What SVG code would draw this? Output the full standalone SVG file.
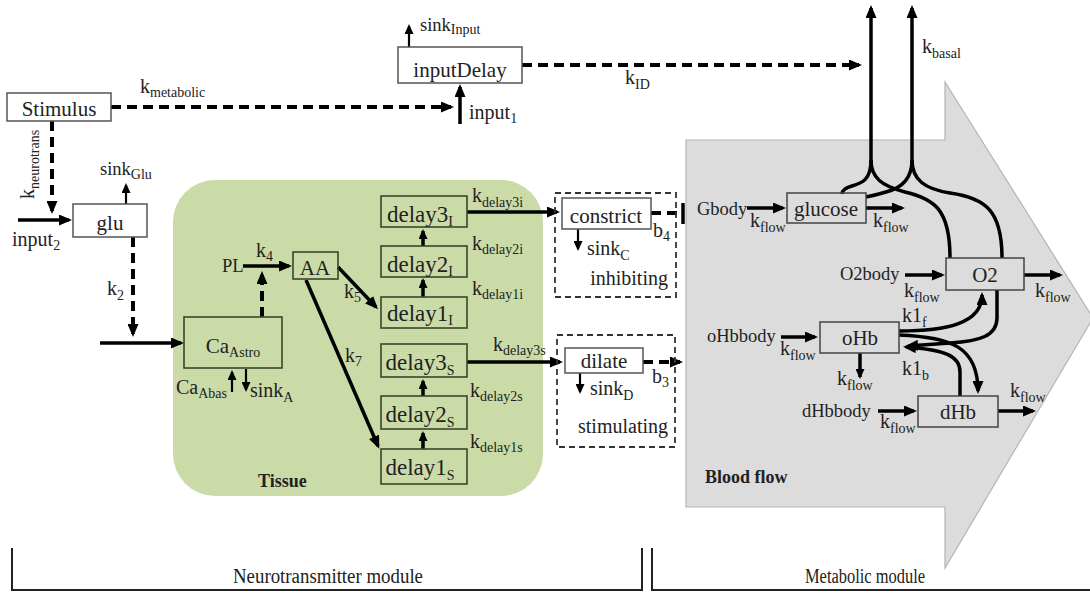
<svg xmlns="http://www.w3.org/2000/svg" width="1090" height="600" viewBox="0 0 1090 600" font-family="Liberation Serif, Times New Roman, DejaVu Serif, serif">
<defs>
<marker id="a" markerUnits="userSpaceOnUse" markerWidth="13" markerHeight="11" refX="10" refY="5.5" orient="auto"><path d="M0,0 L13,5.5 L0,11 z" fill="#000"/></marker>
<marker id="s" markerUnits="userSpaceOnUse" markerWidth="10" markerHeight="9" refX="8" refY="4.5" orient="auto"><path d="M0,0 L10,4.5 L0,9 z" fill="#000"/></marker>
<style>
text{font-family:"Liberation Serif","Times New Roman","DejaVu Serif",serif;fill:#222;font-size:20px}
tspan.u{font-size:14px}
.c{text-anchor:middle}
.e{text-anchor:end}
.n{font-size:21px}
.d{font-size:23px}
.sm{font-size:18.5px}
.b{font-weight:bold;font-size:18px}
.box{fill:#fff;stroke:#555;stroke-width:1.5}
.gbox{fill:none;stroke:#38482a;stroke-width:1.6}
.mbox{fill:none;stroke:#444;stroke-width:1.5}
.ln{fill:none;stroke:#000;stroke-width:3.5}
.th{fill:none;stroke:#000;stroke-width:2.2}
.dl{fill:none;stroke:#000;stroke-width:4;stroke-dasharray:10,6}
.db{fill:none;stroke:#333;stroke-width:1.8;stroke-dasharray:6,4}
</style>
</defs>
<rect width="1090" height="600" fill="#fff"/>
<g id="bloodflow-region">
<polygon points="686,140 945,140 945,82 1093,318 945,568 945,507 686,507" fill="#dcdcdc" stroke="#b4b4b4" stroke-width="1.2"/>
<text x="705" y="483" class="b">Blood flow</text>
</g>
<g id="tissue-region">
<rect x="173" y="180" width="370" height="316" rx="42" fill="#cbdba7"/>
<text x="258" y="487" class="b">Tissue</text>
</g>
<g id="connectors">
<path class="dl" d="M111,107 L451,107" marker-end="url(#a)"/>
<text x="140" y="93">k<tspan class="u" dy="4">metabolic</tspan></text>
<path class="ln" d="M460,124 L460,87" marker-end="url(#a)"/>
<text x="469" y="119">input<tspan class="u" dy="4">1</tspan></text>
<path class="th" d="M409,47 L409,26" marker-end="url(#s)"/>
<text x="420" y="31" class="sm">sink<tspan class="u" dy="3">Input</tspan></text>
<path class="dl" d="M522,65 L859,65" marker-end="url(#a)"/>
<text x="625" y="84">k<tspan class="u" dy="5">ID</tspan></text>
<path class="ln" d="M871,162 L871,8" marker-end="url(#a)"/>
<path class="ln" d="M912,162 L912,8" marker-end="url(#a)"/>
<text x="922" y="53">k<tspan class="u" dy="5">basal</tspan></text>
<path class="dl" d="M52,121 L52,211" marker-end="url(#a)"/>
<text transform="translate(34,199) rotate(-90)">k<tspan class="u" dy="5">neurotrans</tspan></text>
<path class="ln" d="M18,220 L69,220" marker-end="url(#a)"/>
<text x="12" y="246">input<tspan class="u" dy="4">2</tspan></text>
<path class="th" d="M126,204 L126,185" marker-end="url(#s)"/>
<text x="100" y="175" class="sm">sink<tspan class="u" dy="4">Glu</tspan></text>
<path class="dl" d="M133,237 L133,334" marker-end="url(#a)"/>
<text x="107" y="295">k<tspan class="u" dy="5">2</tspan></text>
<path class="ln" d="M100,343 L181,343" marker-end="url(#a)"/>
<path class="th" d="M232,392 L232,372" marker-end="url(#s)"/>
<path class="th" d="M246,369 L246,390" marker-end="url(#s)"/>
<text x="176" y="394">Ca<tspan class="u" dy="4">Abas</tspan></text>
<text x="250" y="397">sink<tspan class="u" dy="5">A</tspan></text>
<path class="dl" d="M262,317 L262,274" marker-end="url(#a)"/>
<text x="222" y="272" class="sm">PL</text>
<path class="ln" d="M243,266 L289,266" marker-end="url(#a)"/>
<text x="256" y="257">k<tspan class="u" dy="4">4</tspan></text>
<path class="ln" d="M338,267 L376,307" marker-end="url(#a)"/>
<text x="344" y="298">k<tspan class="u" dy="4">5</tspan></text>
<path class="ln" d="M306,280 L378,446" marker-end="url(#a)"/>
<text x="345" y="362">k<tspan class="u" dy="4">7</tspan></text>
<path class="ln" d="M423,246 L423,231" marker-end="url(#s)"/>
<path class="ln" d="M423,297 L423,280" marker-end="url(#s)"/>
<path class="ln" d="M423,396 L423,381" marker-end="url(#s)"/>
<path class="ln" d="M423,449 L423,433" marker-end="url(#s)"/>
<text x="472" y="202">k<tspan class="u" dy="5">delay3i</tspan></text>
<text x="472" y="250">k<tspan class="u" dy="4">delay2i</tspan></text>
<text x="472" y="295">k<tspan class="u" dy="4">delay1i</tspan></text>
<text x="493" y="351">k<tspan class="u" dy="4">delay3s</tspan></text>
<text x="470" y="397">k<tspan class="u" dy="4">delay2s</tspan></text>
<text x="470" y="448">k<tspan class="u" dy="4">delay1s</tspan></text>
<path class="ln" d="M467,212 L557,212" marker-end="url(#a)"/>
<path class="ln" d="M467,362 L560,362" marker-end="url(#a)"/>
<path class="th" d="M578,229 L578,249" marker-end="url(#s)"/>
<text x="587" y="255">sink<tspan class="u" dy="5">C</tspan></text>
<text x="653" y="237">b<tspan class="u" dy="4">4</tspan></text>
<path class="dl" d="M651,213 L681,213" stroke-dasharray="9,6"/>
<path d="M683,203 L683,224" stroke="#000" stroke-width="3.5"/>
<path class="th" d="M580,373 L580,392" marker-end="url(#s)"/>
<text x="590" y="395">sink<tspan class="u" dy="5">D</tspan></text>
<text x="652" y="383">b<tspan class="u" dy="4">3</tspan></text>
<path class="dl" d="M643,362 L680,362" stroke-dasharray="9,6" marker-end="url(#a)"/>
<text x="697" y="215" class="sm">Gbody</text>
<path class="ln" d="M747,208 L783,208" marker-end="url(#a)"/>
<text x="750" y="227">k<tspan class="u" dy="5">flow</tspan></text>
<path class="ln" d="M866,208 L902,208" marker-end="url(#a)"/>
<text x="873" y="227">k<tspan class="u" dy="5">flow</tspan></text>
<text x="840" y="280" class="sm">O2body</text>
<path class="ln" d="M905,275 L942,275" marker-end="url(#a)"/>
<text x="904" y="297">k<tspan class="u" dy="5">flow</tspan></text>
<path class="ln" d="M1024,275 L1060,275" marker-end="url(#a)"/>
<text x="1035" y="297">k<tspan class="u" dy="5">flow</tspan></text>
<text x="707" y="342" class="sm">oHbbody</text>
<path class="ln" d="M781,337 L815,337" marker-end="url(#a)"/>
<text x="780" y="355">k<tspan class="u" dy="5">flow</tspan></text>
<path class="ln" d="M860,353 L860,377" marker-end="url(#s)"/>
<text x="837" y="385">k<tspan class="u" dy="5">flow</tspan></text>
<text x="802" y="417" class="sm">dHbbody</text>
<path class="ln" d="M878,411 L914,411" marker-end="url(#a)"/>
<text x="880" y="428">k<tspan class="u" dy="5">flow</tspan></text>
<path class="ln" d="M998,411 L1033,411" marker-end="url(#a)"/>
<text x="1010" y="397">k<tspan class="u" dy="5">flow</tspan></text>
<path class="ln" d="M871,160 C871,180 862,183 852,186 C845,188 842,190 842,194"/>
<path class="ln" d="M871,160 C871,178 882,186 905,192 C935,199 950,210 950,258"/>
<path class="ln" d="M912,160 C912,178 902,188 886,192 C876,195 871,196 866,197"/>
<path class="ln" d="M912,160 C912,180 925,189 950,193 C985,198 1002,210 1002,258"/>
<path class="ln" d="M997,290 L997,318 C997,336 980,341 950,343 L908,346" marker-end="url(#a)"/>
<path class="ln" d="M960,396 L960,372 C960,356 946,350 906,347" marker-end="url(#a)"/>
<path class="ln" d="M899,331 C945,331 982,324 982,295" marker-end="url(#a)"/>
<path class="ln" d="M899,335 C950,337 978,346 978,391" marker-end="url(#a)"/>
<text x="902" y="322">k1<tspan class="u" dy="5">f</tspan></text>
<text x="902" y="375">k1<tspan class="u" dy="5">b</tspan></text>
</g>
<g id="Stimulus"><rect class="box" x="7" y="93" width="104" height="28"/><text x="59" y="116" class="c n">Stimulus</text></g>
<g id="inputDelay"><rect class="box" x="398" y="47" width="124" height="36"/><text x="460" y="77" class="c n">inputDelay</text></g>
<g id="glu"><rect class="box" x="73" y="204" width="74" height="33"/><text x="110" y="230" class="c n">glu</text></g>
<g id="CaAstro"><rect class="gbox" x="184" y="317" width="98" height="51"/><text x="233" y="353" class="c n">Ca<tspan class="u" dy="4">Astro</tspan></text></g>
<g id="AA"><rect class="gbox" x="293" y="252" width="45" height="27"/><text x="315" y="275" class="c n">AA</text></g>
<g id="delay3I"><rect class="gbox" x="381" y="196" width="86" height="31"/><text x="420" y="222" class="c d">delay3<tspan class="u" dy="4">I</tspan></text></g>
<g id="delay2I"><rect class="gbox" x="381" y="246" width="86" height="31"/><text x="420" y="272" class="c d">delay2<tspan class="u" dy="4">I</tspan></text></g>
<g id="delay1I"><rect class="gbox" x="381" y="297" width="86" height="31"/><text x="420" y="321" class="c d">delay1<tspan class="u" dy="4">I</tspan></text></g>
<g id="delay3S"><rect class="gbox" x="381" y="344" width="86" height="33"/><text x="420" y="370" class="c d">delay3<tspan class="u" dy="5">S</tspan></text></g>
<g id="delay2S"><rect class="gbox" x="381" y="396" width="86" height="33"/><text x="420" y="422" class="c d">delay2<tspan class="u" dy="5">S</tspan></text></g>
<g id="delay1S"><rect class="gbox" x="381" y="449" width="86" height="35"/><text x="420" y="475" class="c d">delay1<tspan class="u" dy="5">S</tspan></text></g>
<g id="constrict"><rect class="db" x="555" y="193" width="121" height="104"/><rect class="box" x="562" y="198" width="89" height="31"/><text x="606" y="223" class="c n">constrict</text><text x="668" y="285" class="e" font-size="18">inhibiting</text></g>
<g id="dilate"><rect class="db" x="557" y="335" width="118" height="112"/><rect class="box" x="565" y="348" width="78" height="25"/><text x="604" y="368" class="c n">dilate</text><text x="668" y="433" class="e" font-size="18">stimulating</text></g>
<g id="glucose"><rect class="mbox" x="787" y="193" width="79" height="30"/><text x="826" y="216" class="c n">glucose</text></g>
<g id="O2"><rect class="mbox" x="946" y="258" width="78" height="32"/><text x="985" y="282" class="c n">O2</text></g>
<g id="oHb"><rect class="mbox" x="820" y="322" width="79" height="31"/><text x="860" y="345" class="c n">oHb</text></g>
<g id="dHb"><rect class="mbox" x="918" y="396" width="80" height="31"/><text x="958" y="419" class="c n">dHb</text></g>
<g id="modules">
<path d="M12,548 L12,590 L642,590 L642,548" fill="none" stroke="#222" stroke-width="2"/>
<path d="M652,548 L652,590 L1090,590" fill="none" stroke="#222" stroke-width="2"/>
<text x="233" y="583" font-size="17" textLength="190" lengthAdjust="spacingAndGlyphs">Neurotransmitter module</text>
<text x="805" y="583" font-size="17" textLength="120" lengthAdjust="spacingAndGlyphs">Metabolic module</text>
</g>
</svg>
